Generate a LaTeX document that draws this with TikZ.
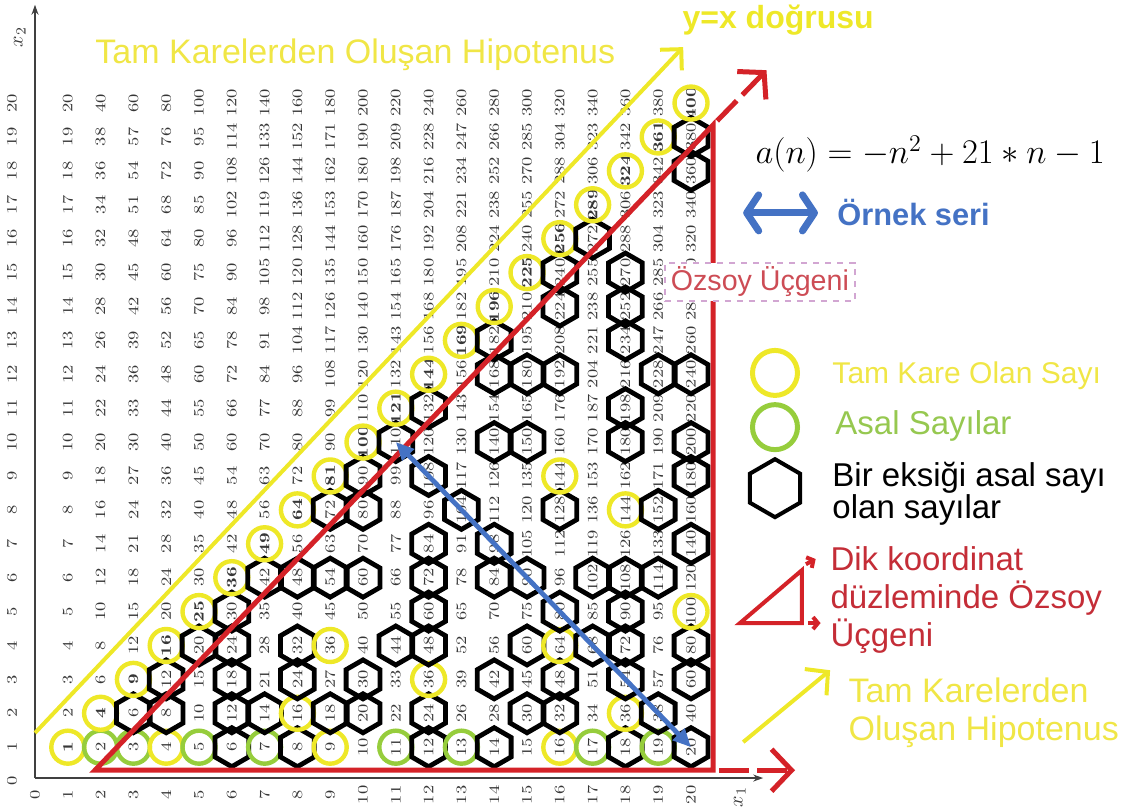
\documentclass[tikz,border=0pt]{standalone}
\usepackage{graphicx}
\usepackage{fontspec}
\newfontfamily\labelfont{Liberation Sans}
\usetikzlibrary{arrows.meta,shapes.geometric,positioning}

\definecolor{sqyellow}{RGB}{238,232,40}
\definecolor{txtyellow}{RGB}{240,230,70}
\definecolor{primegreen}{RGB}{150,205,60}
\definecolor{txtgreen}{RGB}{150,200,80}
\definecolor{ozred}{RGB}{212,34,40}
\definecolor{txtred}{RGB}{196,45,55}
\definecolor{serieblue}{RGB}{68,114,196}
\definecolor{numgray}{RGB}{55,55,55}

% is #1 prime (up to 400)?
\newcommand\primetest[2]{\pgfmathtruncatemacro#2{(#1>1)&&((#1==2)||(mod(#1,2)!=0))&&((#1==3)||(mod(#1,3)!=0))&&((#1==5)||(mod(#1,5)!=0))&&((#1==7)||(mod(#1,7)!=0))&&((#1==11)||(mod(#1,11)!=0))&&((#1==13)||(mod(#1,13)!=0))&&((#1==17)||(mod(#1,17)!=0))&&((#1==19)||(mod(#1,19)!=0))}}
% is #1 a perfect square?
\newcommand\squaretest[2]{\pgfmathtruncatemacro#2{round(sqrt(#1))*round(sqrt(#1))==#1}}
\newcommand\rnum[1]{\scalebox{1}[0.8]{#1}}

\begin{document}
\begin{tikzpicture}[
    x=16.4pt, y=16.95pt,
    num/.style = {rotate=90, inner sep=0pt, text=numgray, font=\fontsize{9}{9}\selectfont},
    sqmark/.style = {circle, draw=sqyellow, line width=2.2pt, minimum size=16.5pt, inner sep=0pt},
    primemark/.style = {circle, draw=primegreen, line width=2.2pt, minimum size=16.5pt, inner sep=0pt},
    hexmark/.style = {regular polygon, regular polygon sides=6, shape border rotate=30, draw=black, line width=2.4pt, minimum size=19.5pt, inner sep=0pt},
    axis/.style = {draw=black!75, line width=0.7pt, -{Stealth[length=5pt,width=3.5pt]}},
    ozline/.style = {draw=ozred, line width=2.5pt},
    hipo/.style = {draw=sqyellow, line width=2pt},
    serie/.style = {draw=serieblue, line width=2.4pt},
    legtxt/.style = {anchor=base west, inner sep=0pt, font=\labelfont\fontsize{16.5}{16.5}\selectfont}
  ]
  \useasboundingbox (-1.067,-0.855) rectangle (33.84,23.04);

  % multiplication table
  \foreach \c in {1,...,20}
    \foreach \r in {1,...,20}{
      \pgfmathtruncatemacro\v{\c*\r}
      \ifnum\c=\r
        \node[num, font=\bfseries\fontsize{9}{9}\selectfont] (n-\c-\r) at (\c,\r) {\rnum{\v}};
      \else
        \node[num] (n-\c-\r) at (\c,\r) {\rnum{\v}};
      \fi
    }

  % axes
  \foreach \i in {0,...,20}{
    \node[num] (xt-\i) at (\i,-0.41) {\rnum{\i}};
    \node[num] (yt-\i) at (-0.7,\i) {\rnum{\i}};
  }
  \coordinate (o) at (0,0.09);
  \coordinate (x1end) at (22.2,0.09);
  \coordinate (x2end) at (0,22.9);
  \draw[axis] (o) -- (x1end);
  \draw[axis] (o) -- (x2end);
  \node[rotate=90, inner sep=0pt, text=numgray] (x1lab) at (21.49,-0.47) {$x_1$};
  \node[rotate=90, inner sep=0pt, text=numgray] (x2lab) at (-0.46,21.95) {$x_2$};

  % markers below the diagonal
  \foreach \c in {1,...,20}
    \foreach \r in {1,...,\c}{
      \pgfmathtruncatemacro\v{\c*\r}
      \pgfmathtruncatemacro\w{\v-1}
      \squaretest{\v}{\issq}
      \primetest{\v}{\isp}
      \primetest{\w}{\isq}
      \ifnum\issq=1
        \node[sqmark] (m-\c-\r) at (n-\c-\r) {};
      \else\ifnum\isp=1
        \node[primemark] (m-\c-\r) at (n-\c-\r) {};
      \else\ifnum\isq=1
        \node[hexmark] (m-\c-\r) at (n-\c-\r) {};
      \fi\fi\fi
    }

  % hypotenuse of squares
  \coordinate (hy-a) at (0,1.42);
  \coordinate (hy-b) at (19.76,21.65);
  \draw[hipo, -{Straight Barb[length=7.5pt,width=15pt]}] (hy-a) -- (hy-b);

  % Ozsoy triangle
  \coordinate (tri-a) at (1.83,0.32);
  \coordinate (tri-b) at (20.67,0.32);
  \coordinate (tri-c) at (20.67,19.35);
  \coordinate (tri-b-end) at (23.17,0.32);
  \coordinate (tri-c-end) at (22.3,20.97);
  \draw[ozline, line join=miter] (tri-a) -- (tri-b) -- (tri-c) -- cycle;
  \draw[ozline, dash pattern=on 14pt off 4pt, shorten <=3pt, -{Straight Barb[length=9pt,width=20pt]}] (tri-c) -- (tri-c-end);
  \draw[ozline, dash pattern=on 15pt off 4pt, shorten <=3pt, -{Straight Barb[length=10pt,width=21pt]}] (tri-b) -- (tri-b-end);

  % sample series
  \draw[serie, {Triangle[length=9pt,width=8pt]}-{Triangle[length=9pt,width=8pt]}] (n-11-10.center) -- (n-20-1.center);

  \node[draw=violet!35, dashed, line width=0.8pt, fill=white, inner xsep=3pt, inner ysep=2pt,
        text=txtred!85!white, font=\labelfont\fontsize{14.3}{14.3}\selectfont] (oz-label) at (22.1,14.72) {Özsoy Üçgeni};

  % top texts
  \node[legtxt, text=txtyellow, font=\labelfont\fontsize{17}{17}\selectfont] (top-hipo) at (1.83,21.18) {Tam Karelerden Oluşan Hipotenus};
  \node[legtxt, text=sqyellow, font=\labelfont\bfseries\fontsize{16}{16}\selectfont] (yx-label) at (19.73,22.21) {y=x doğrusu};
  \node (formula) at (27.29,18.5) {\fontsize{18}{18}\selectfont $a(n)=-n^2+21*n-1$};

  % legend
  \coordinate (ser-a) at (21.59,16.76);
  \coordinate (ser-b) at (23.87,16.76);
  \draw[serie, line width=3.5pt, {Straight Barb[round,length=6pt,width=18pt]}-{Straight Barb[round,length=6pt,width=18pt]}] (ser-a) -- (ser-b);
  \node[legtxt, text=serieblue, font=\labelfont\bfseries\fontsize{15.4}{15.4}\selectfont] (ser-txt) at (24.45,16.4) {Örnek seri};

  \node[sqmark, line width=2.5pt, minimum size=22.5pt] (leg-sq) at (22.56,12.04) {};
  \node[legtxt, text=txtyellow, font=\labelfont\fontsize{15}{15}\selectfont] (leg-sq-txt) at (24.3,11.74) {Tam Kare Olan Sayı};

  \node[primemark, line width=2.5pt, minimum size=22.5pt] (leg-prime) at (22.56,10.44) {};
  \node[legtxt, text=txtgreen] (leg-prime-txt) at (24.39,10.21) {Asal Sayılar};

  \node[hexmark, line width=2pt, minimum size=29pt] (leg-hex) at (22.56,8.64) {};
  \node[legtxt, text=black] (leg-hex-l1) at (24.3,8.7) {Bir eksiği asal sayı};
  \node[legtxt, text=black, below=16pt of leg-hex-l1.base west, anchor=base west] (leg-hex-l2) {olan sayılar};

  \coordinate (lt-a) at (21.49,4.66);
  \coordinate (lt-b) at (23.38,4.66);
  \coordinate (lt-c) at (23.38,6.22);
  \coordinate (lt-b-end) at (23.95,4.66);
  \coordinate (lt-c-end) at (23.8,6.55);
  \draw[ozline, line width=2pt, line join=miter] (lt-a) -- (lt-b) -- (lt-c) -- cycle;
  \draw[ozline, line width=2pt, -{Straight Barb[length=2.5pt,width=6pt]}] ([shift={(2pt,3pt)}]lt-c) -- (lt-c-end);
  \draw[ozline, line width=2pt, -{Straight Barb[length=2.5pt,width=6pt]}] ([shift={(3pt,0pt)}]lt-b) -- (lt-b-end);
  \node[legtxt, text=txtred] (leg-tri-l1) at (24.24,6.22) {Dik koordinat};
  \node[legtxt, text=txtred, below=19pt of leg-tri-l1.base west, anchor=base west] (leg-tri-l2) {düzleminde Özsoy};
  \node[legtxt, text=txtred, below=19pt of leg-tri-l2.base west, anchor=base west] (leg-tri-l3) {Üçgeni};

  \coordinate (lh-a) at (21.59,1.15);
  \coordinate (lh-b) at (24.24,3.27);
  \draw[hipo, -{Straight Barb[length=8pt,width=17pt]}] (lh-a) -- (lh-b);
  \node[legtxt, text=txtyellow, font=\labelfont\fontsize{17}{17}\selectfont] (leg-hipo-l1) at (24.79,2.33) {Tam Karelerden};
  \node[legtxt, text=txtyellow, font=\labelfont\fontsize{17}{17}\selectfont, below=19pt of leg-hipo-l1.base west, anchor=base west] (leg-hipo-l2) {Oluşan Hipotenus};
\end{tikzpicture}
\end{document}
